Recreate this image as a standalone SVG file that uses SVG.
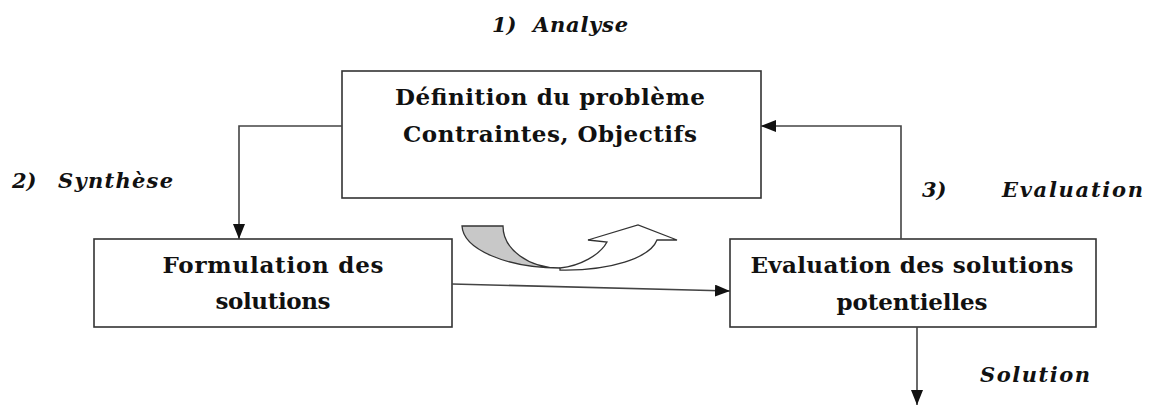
<svg xmlns="http://www.w3.org/2000/svg" width="1150" height="406" viewBox="0 0 1150 406">
<style>
.box{fill:#fff;stroke:#333;stroke-width:1.6}
.t{font-family:"DejaVu Serif","Liberation Serif",serif;font-weight:bold;font-size:23px;fill:#111;text-anchor:middle}
.l{font-family:"DejaVu Serif","Liberation Serif",serif;font-weight:bold;font-style:italic;font-size:21px;fill:#111}
.c{fill:none;stroke:#444;stroke-width:1.6}
</style>
<defs>
<marker id="ah" markerUnits="userSpaceOnUse" markerWidth="16" markerHeight="12" refX="15" refY="6" orient="auto">
<path d="M0,0 L15,6 L0,12 Z" fill="#111"/>
</marker>
</defs>
<rect width="1150" height="406" fill="#fff"/>
<text class="l" x="492" y="32">1)</text>
<text class="l" x="533" y="32" textLength="95">Analyse</text>
<text class="l" x="12" y="188">2)</text>
<text class="l" x="58" y="188" textLength="115">Synthèse</text>
<text class="l" x="922" y="197">3)</text>
<text class="l" x="1002" y="197" textLength="141">Evaluation</text>
<text class="l" x="980" y="382" textLength="110">Solution</text>
<g id="definition">
<rect class="box" x="342" y="71" width="419" height="127"/>
<text class="t" x="550" y="105" textLength="310">Définition du problème</text>
<text class="t" x="550" y="142" textLength="294">Contraintes, Objectifs</text>
</g>
<g id="formulation">
<rect class="box" x="94" y="239" width="358" height="88"/>
<text class="t" x="273" y="273" textLength="221">Formulation des</text>
<text class="t" x="273" y="309" textLength="115">solutions</text>
</g>
<g id="evaluation">
<rect class="box" x="730" y="239" width="366" height="88"/>
<text class="t" x="912" y="273" textLength="323">Evaluation des solutions</text>
<text class="t" x="912" y="310" textLength="151">potentielles</text>
</g>
<g id="cycle-arrow">
<path d="M462,226 L503,226 A57,42 0 0 0 560,268 A98,43 0 0 1 462,226 Z" fill="#c8c8c8" stroke="#333" stroke-width="1.3"/>
<path d="M560,268 C580,266 600,255 607,242 L588,240 L638,225 L677,240 L657,240 C650,258 610,271 560,270 Z" fill="#fff" stroke="#333" stroke-width="1.3"/>
</g>
<g id="connectors">
<path class="c" d="M342,126 L239,126 L239,239" marker-end="url(#ah)"/>
<path class="c" d="M452,284 L730,291" marker-end="url(#ah)"/>
<path class="c" d="M901,239 L901,126 L761,126" marker-end="url(#ah)"/>
<path class="c" d="M917,327 L917,405" marker-end="url(#ah)"/>
</g>
</svg>
